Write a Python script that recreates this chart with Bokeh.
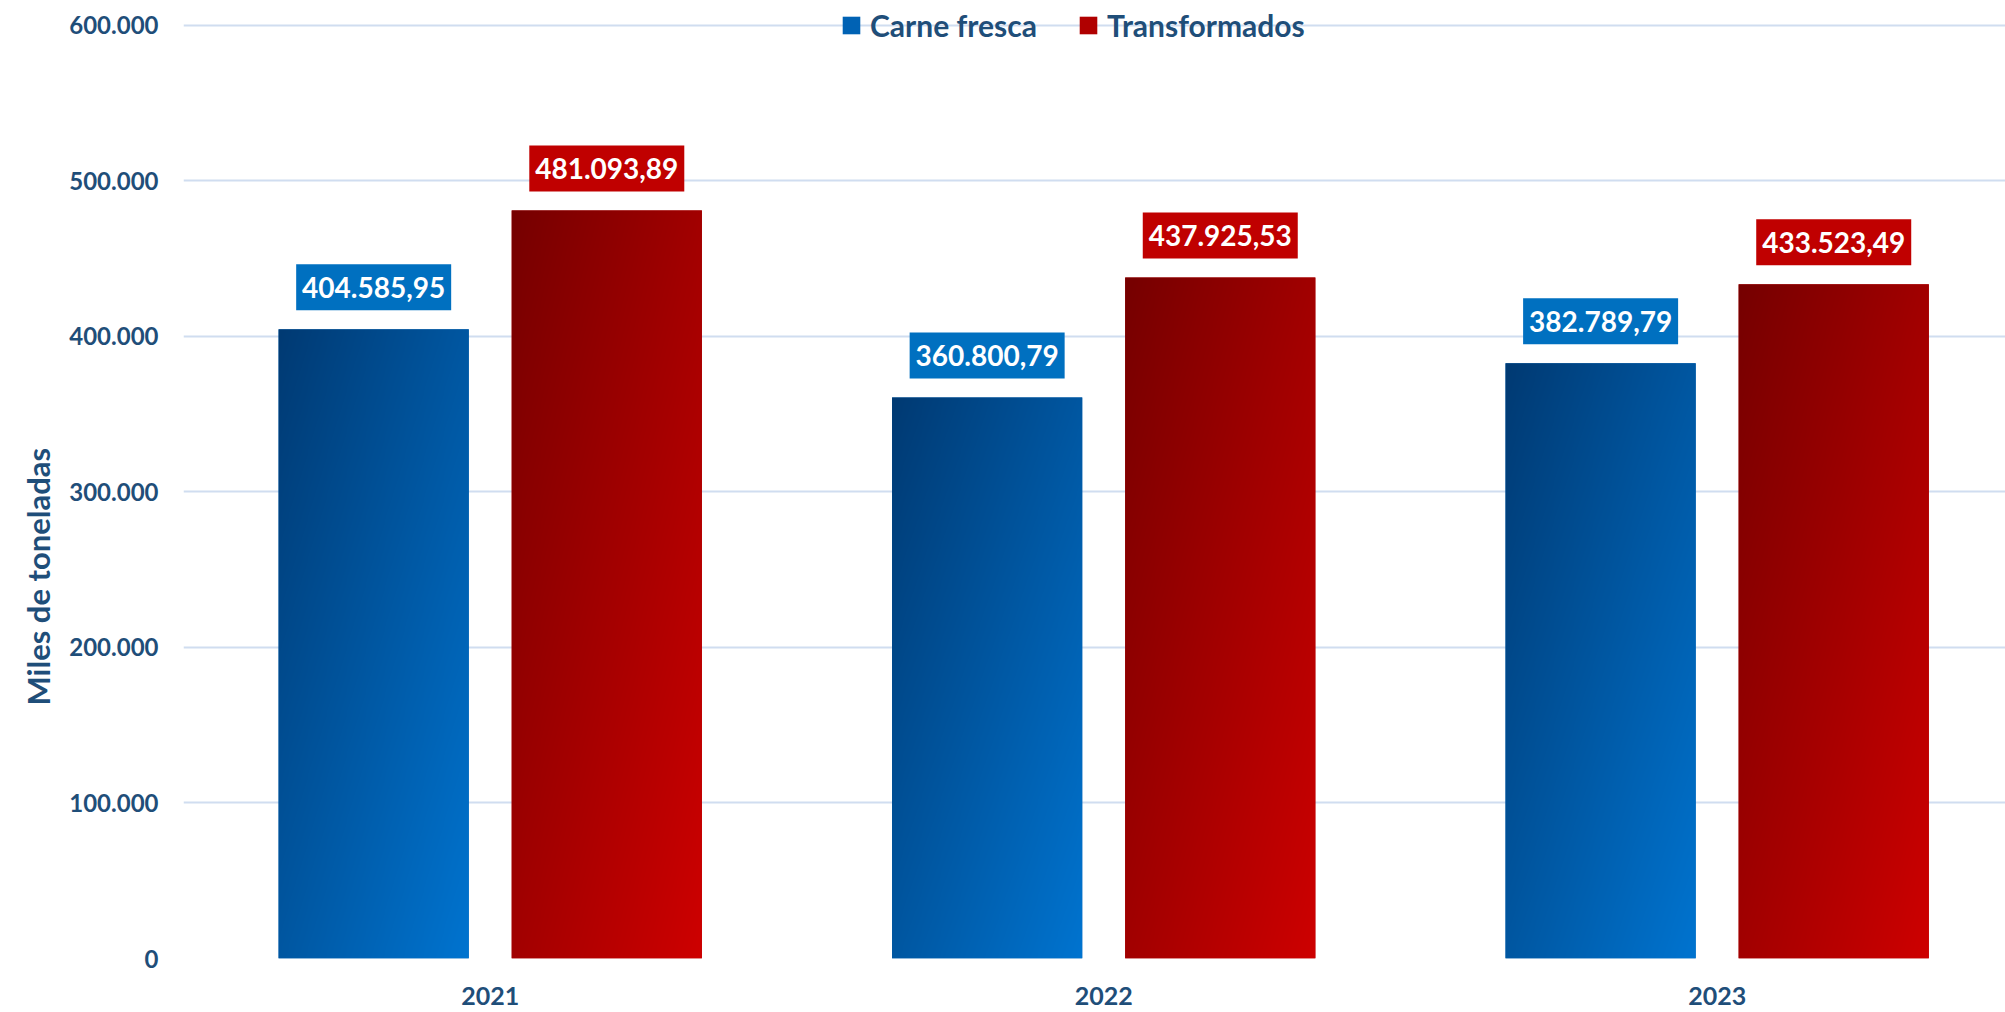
import numpy as np
from bokeh.plotting import figure
from bokeh.models import (ColumnDataSource, Legend, LegendItem, FixedTicker,
                          Range1d, Title)
from bokeh.core.properties import value
from bokeh.embed import file_html
from bokeh.resources import INLINE

# ---- data ----
years = ["2021", "2022", "2023"]
carne_fresca = [404585.95, 360800.79, 382789.79]
transformados = [481093.89, 437925.53, 433523.49]
carne_labels = ["404.585,95", "360.800,79", "382.789,79"]
transf_labels = ["481.093,89", "437.925,53", "433.523,49"]
y_ticks = [0, 100000, 200000, 300000, 400000, 500000, 600000]
y_tick_labels = ["0", "100.000", "200.000", "300.000", "400.000", "500.000", "600.000"]
series_names = ["Carne fresca", "Transformados"]

FONT = "Lato"
TXT = "#1F4E79"
BAR_W = 0.31
OFFSET = 0.19

centers = [i + 0.5 for i in range(len(years))]

W, H = 2005, 1010
FRAME_H = 958
Y_END = 616077
px_per_unit = FRAME_H / Y_END
p = figure(width=W, height=H, output_backend="svg", toolbar_location=None,
           x_range=Range1d(0, 2.970), y_range=Range1d(0, Y_END),
           min_border_left=183, min_border_right=0, min_border_top=0,
           min_border_bottom=H - FRAME_H)
p.outline_line_color = None
p.background_fill_color = "white"
p.border_fill_color = "white"

p.xgrid.visible = False
p.ygrid.grid_line_color = "#D0DDF0"
p.ygrid.grid_line_width = 2
p.ygrid.ticker = FixedTicker(ticks=y_ticks)

p.yaxis.ticker = FixedTicker(ticks=y_ticks)
p.yaxis.major_label_overrides = {t: l for t, l in zip(y_ticks, y_tick_labels)}
p.xaxis.ticker = FixedTicker(ticks=centers)
p.xaxis.major_label_overrides = {c: y for c, y in zip(centers, years)}
for ax in (p.xaxis, p.yaxis):
    ax.axis_line_color = None
    ax.major_tick_line_color = None
    ax.minor_tick_line_color = None
    ax.major_label_text_font = FONT
    ax.major_label_text_font_style = "bold"
    ax.major_label_text_color = TXT
p.yaxis.major_label_text_font_size = "24px"
p.xaxis.major_label_text_font_size = "25px"
p.yaxis.major_label_standoff = 19
p.xaxis.major_label_standoff = 22


def gradient(n, c0, c1):
    img = np.empty((n, n), dtype=np.uint32)
    view = img.view(dtype=np.uint8).reshape((n, n, 4))
    u = np.linspace(0, 1, n)[None, :]
    v = np.linspace(0, 1, n)[:, None]  # row 0 = bottom
    t = (u + (1 - v)) / 2
    for k in range(3):
        view[:, :, k] = (c0[k] + (c1[k] - c0[k]) * t).astype(np.uint8)
    view[:, :, 3] = 255
    return img


series = [
    (carne_fresca, carne_labels, -OFFSET, "#0062B4", (0, 58, 115), (0, 116, 208), "#0070C0"),
    (transformados, transf_labels, OFFSET, "#B00000", (118, 0, 0), (206, 0, 0), "#C00000"),
]

LABEL_GAP_PX = 42  # centre of value box above bar top
renderers = []
for vals, labs, off, base, c0, c1, boxc in series:
    xs = [c + off for c in centers]
    ly = [v + LABEL_GAP_PX / px_per_unit for v in vals]
    src = ColumnDataSource(dict(x=xs, top=vals, ly=ly, text=labs))
    r = p.vbar(x="x", top="top", width=BAR_W, source=src, fill_color=base,
               line_color=None)
    renderers.append(r)
    img = gradient(200, c0, c1)
    p.image_rgba(image=[img] * len(xs), x=[x - BAR_W / 2 for x in xs],
                 y=[0] * len(xs), dw=[BAR_W] * len(xs), dh=vals)
    p.rect(x="x", y="ly", width=155, height=46, width_units="screen",
           height_units="screen", source=src, fill_color=boxc, line_color=None)
    p.text(x="x", y="ly", text="text", source=src, text_align="center",
           text_baseline="middle", text_font=value(FONT),
           text_font_style="bold", text_font_size="28px", text_color="white")

legend = Legend(items=[LegendItem(label=series_names[i], renderers=[renderers[i]])
                       for i in range(2)],
                orientation="horizontal", location=(657, 915))
legend.label_text_font = FONT
legend.label_text_font_style = "bold"
legend.label_text_font_size = "30px"
legend.label_text_color = TXT
legend.glyph_width = 22
legend.glyph_height = 22
legend.label_standoff = 8
legend.spacing = 40
legend.padding = 0
legend.margin = 0
legend.background_fill_alpha = 0
legend.border_line_color = None
p.add_layout(legend)

ytitle = Title(text="Miles de toneladas", align="left", offset=253,
               standoff=20, text_font=FONT, text_font_style="bold",
               text_font_size="31px", text_color=TXT)
p.add_layout(ytitle, "left")

open("out.html", "w").write(file_html(p, INLINE))
